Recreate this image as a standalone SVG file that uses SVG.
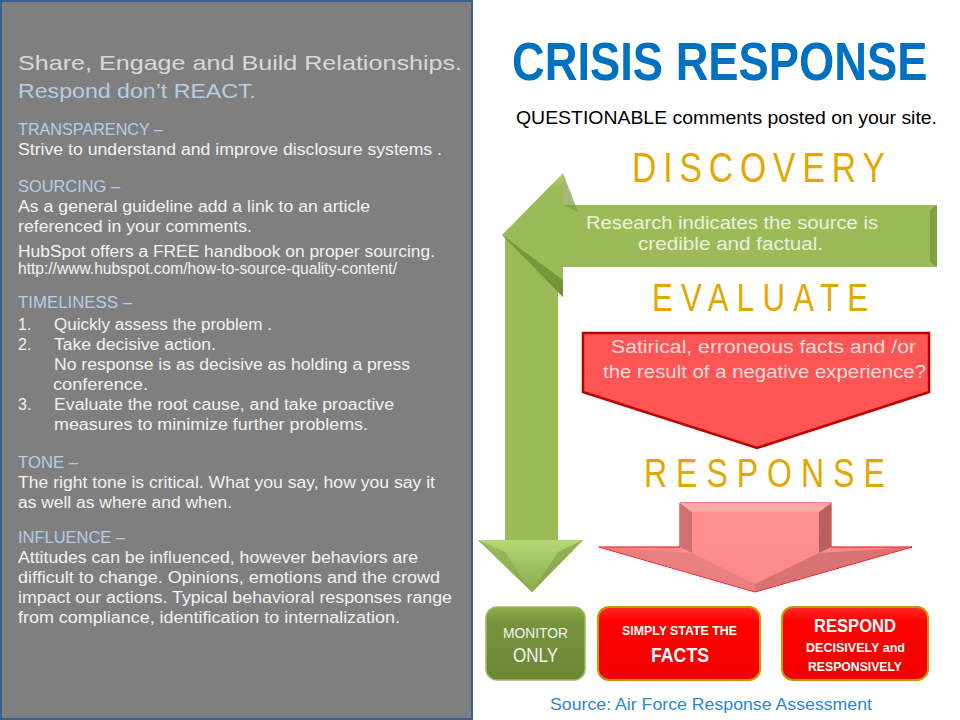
<svg xmlns="http://www.w3.org/2000/svg" width="960" height="720" viewBox="0 0 960 720">
<style>
.lt{font-family:"Liberation Sans",Arial,sans-serif;font-size:16px;fill:#f2f2f2}
.hd{font-family:"Liberation Sans",Arial,sans-serif;font-size:16px;fill:#b8cce4}
.stage{font-family:"Liberation Sans",Arial,sans-serif;fill:#e3a800}
.wt{font-family:"Liberation Sans",Arial,sans-serif;fill:#ffffff;font-weight:bold}
</style>
<defs>
<linearGradient id="gH" x1="0" y1="0" x2="0" y2="1">
<stop offset="0" stop-color="#b5d774"/><stop offset="0.12" stop-color="#9bbb59"/><stop offset="0.85" stop-color="#9bbb59"/><stop offset="1" stop-color="#6f8d35"/>
</linearGradient>
<linearGradient id="gV" x1="0" y1="0" x2="1" y2="0">
<stop offset="0" stop-color="#7d9c42"/><stop offset="0.25" stop-color="#9bbb59"/><stop offset="0.85" stop-color="#9bbb59"/><stop offset="1" stop-color="#86a64a"/>
</linearGradient>
<linearGradient id="gHead" x1="0" y1="0" x2="0" y2="1">
<stop offset="0" stop-color="#b5d774"/><stop offset="1" stop-color="#8aab4c"/>
</linearGradient>
<linearGradient id="gBox" x1="0" y1="0" x2="0" y2="1">
<stop offset="0" stop-color="#8fb04d"/><stop offset="0.2" stop-color="#77933c"/><stop offset="1" stop-color="#6b8736"/>
</linearGradient>
<linearGradient id="rBox" x1="0" y1="0" x2="0" y2="1">
<stop offset="0" stop-color="#ff2a2a"/><stop offset="0.2" stop-color="#ff0000"/><stop offset="1" stop-color="#f00000"/>
</linearGradient>
<linearGradient id="rArr" x1="0" y1="0" x2="0" y2="1">
<stop offset="0" stop-color="#ff9090"/><stop offset="1" stop-color="#ff8a8a"/>
</linearGradient>
</defs>

<!-- left panel -->
<g id="left-panel">
<rect x="1" y="1" width="471" height="718" fill="#7f7f7f" stroke="#3a5f8f" stroke-width="2"/>
<text x="18" y="70" font-family="Liberation Sans, Arial, sans-serif" font-size="21" fill="#d9d9d9" textLength="444" lengthAdjust="spacingAndGlyphs">Share, Engage and Build Relationships.</text>
<text x="18" y="98" font-family="Liberation Sans, Arial, sans-serif" font-size="21" fill="#b8cce4" textLength="238" lengthAdjust="spacingAndGlyphs">Respond don’t REACT.</text>
<text class="hd" x="18" y="135" textLength="145" lengthAdjust="spacingAndGlyphs">TRANSPARENCY –</text>
<text class="lt" x="18" y="155" textLength="424" lengthAdjust="spacingAndGlyphs">Strive to understand and improve disclosure systems .</text>
<text class="hd" x="18" y="192" textLength="102" lengthAdjust="spacingAndGlyphs">SOURCING –</text>
<text class="lt" x="18" y="212" textLength="352" lengthAdjust="spacingAndGlyphs">As a general guideline add a link to an article</text>
<text class="lt" x="18" y="232" textLength="234" lengthAdjust="spacingAndGlyphs">referenced in your comments.</text>
<text class="lt" x="18" y="257" textLength="417" lengthAdjust="spacingAndGlyphs">HubSpot offers a FREE handbook on proper sourcing.</text>
<text class="lt" x="18" y="274" font-size="12" textLength="379" lengthAdjust="spacingAndGlyphs">http://www.hubspot.com/how-to-source-quality-content/</text>
<text class="hd" x="18" y="308" textLength="114" lengthAdjust="spacingAndGlyphs">TIMELINESS –</text>
<text class="lt" x="18" y="330">1.</text>
<text class="lt" x="54" y="330" textLength="218" lengthAdjust="spacingAndGlyphs">Quickly assess the problem .</text>
<text class="lt" x="18" y="350">2.</text>
<text class="lt" x="54" y="350" textLength="162" lengthAdjust="spacingAndGlyphs">Take decisive action.</text>
<text class="lt" x="54" y="370" textLength="356" lengthAdjust="spacingAndGlyphs">No response is as decisive as holding a press</text>
<text class="lt" x="53" y="390" textLength="95" lengthAdjust="spacingAndGlyphs">conference.</text>
<text class="lt" x="18" y="410">3.</text>
<text class="lt" x="54" y="410" textLength="340" lengthAdjust="spacingAndGlyphs">Evaluate the root cause, and take proactive</text>
<text class="lt" x="54" y="430" textLength="314" lengthAdjust="spacingAndGlyphs">measures to minimize further problems.</text>
<text class="hd" x="18" y="468" textLength="60" lengthAdjust="spacingAndGlyphs">TONE –</text>
<text class="lt" x="18" y="488" textLength="417" lengthAdjust="spacingAndGlyphs">The right tone is critical.  What you say, how you say it</text>
<text class="lt" x="18" y="508" textLength="214" lengthAdjust="spacingAndGlyphs">as well as where and when.</text>
<text class="hd" x="18" y="543" textLength="107" lengthAdjust="spacingAndGlyphs">INFLUENCE –</text>
<text class="lt" x="18" y="563" textLength="400" lengthAdjust="spacingAndGlyphs">Attitudes can be influenced, however behaviors are</text>
<text class="lt" x="18" y="583" textLength="422" lengthAdjust="spacingAndGlyphs">difficult to change.  Opinions, emotions and the crowd</text>
<text class="lt" x="18" y="603" textLength="434" lengthAdjust="spacingAndGlyphs">impact our actions.  Typical behavioral responses range</text>
<text class="lt" x="18" y="623" textLength="382" lengthAdjust="spacingAndGlyphs">from compliance, identification to internalization.</text>
</g>

<!-- titles -->
<g id="title">
<text transform="translate(512,80) scale(0.855,1)" x="0" y="0" font-family="Liberation Sans, Arial, sans-serif" font-size="53" font-weight="bold" fill="#0070c0">CRISIS RESPONSE</text>
<text x="516" y="124" font-family="Liberation Sans, Arial, sans-serif" font-size="18" fill="#000000" textLength="421" lengthAdjust="spacingAndGlyphs">QUESTIONABLE comments posted on your site.</text>
</g>

<!-- connectors / arrows -->
<g id="connectors">
<!-- green vertical shaft with down head -->
<path d="M505,235 L558,235 L558,540 L583,540 L532,592 L478,540 L505,540 Z" fill="url(#gV)"/>
<path d="M478,540 L583,540 L532,592 Z" fill="url(#gHead)"/>
<path d="M478,540 L505,552 L532,592 Z" fill="#8aa84e" opacity="0.6"/>
<path d="M583,540 L558,552 L532,592 Z" fill="#7f9d44" opacity="0.6"/>
<!-- green horizontal arrow pointing left -->
<path d="M937,205 L937,267 L563,267 L563,297 L502,235 L563,173 L563,205 Z" fill="url(#gH)"/>
<path d="M563,173 L563,205 L578,212 Z" fill="#7d9c42" opacity="0.7"/>
<path d="M502,235 L563,297 L563,280 Z" fill="#6f8d35" opacity="0.8"/>
<path d="M930,210 L937,205 L937,267 L930,262 Z" fill="#6f8d35" opacity="0.6"/>
<!-- red evaluate pentagon -->
<path d="M583,333 L929,333 L929,392 L757,448 L583,392 Z" fill="#ff5555" stroke="#c00000" stroke-width="2.5" stroke-linejoin="miter"/>
<!-- red response down arrow -->
<path d="M680,503 L831,503 L831,547 L912,547 L755,592 L599,547 L680,547 Z" fill="url(#rArr)" stroke="#ff0000" stroke-width="1"/>
<path d="M680,503 L692,512 L692,553 L680,547 Z" fill="#d07070"/>
<path d="M831,503 L819,512 L819,553 L831,547 Z" fill="#b86060"/>
<path d="M599,547 L692,553 L755,584 L755,592 Z" fill="#e07a7a" opacity="0.7"/>
<path d="M912,547 L819,553 L755,584 L755,592 Z" fill="#c86a6a" opacity="0.7"/>
<path d="M680,503 L831,503 L819,512 L692,512 Z" fill="#ffa8a8"/>
</g>

<g id="discovery">
<text class="stage" transform="scale(0.8,1)" x="790" y="182" font-size="42" textLength="316" lengthAdjust="spacing">DISCOVERY</text>
<text x="586" y="229" font-family="Liberation Sans, Arial, sans-serif" font-size="18" fill="#ebf1de" textLength="292" lengthAdjust="spacingAndGlyphs">Research indicates the source is</text>
<text x="638" y="250" font-family="Liberation Sans, Arial, sans-serif" font-size="18" fill="#ebf1de" textLength="185" lengthAdjust="spacingAndGlyphs">credible and factual.</text>
</g>

<g id="evaluate">
<text class="stage" transform="scale(0.8,1)" x="815" y="311" font-size="39" textLength="270" lengthAdjust="spacing">EVALUATE</text>
<text x="611" y="353" font-family="Liberation Sans, Arial, sans-serif" font-size="18" fill="#f2dcdb" textLength="305" lengthAdjust="spacingAndGlyphs">Satirical, erroneous facts  and /or</text>
<text x="603" y="378" font-family="Liberation Sans, Arial, sans-serif" font-size="18" fill="#f2dcdb" textLength="323" lengthAdjust="spacingAndGlyphs">the result of a negative experience?</text>
</g>

<g id="response">
<text class="stage" transform="scale(0.8,1)" x="805" y="487" font-size="40" textLength="301" lengthAdjust="spacing">RESPONSE</text>
</g>

<g id="monitor-only">
<rect x="486" y="607" width="99" height="73" rx="11" fill="url(#gBox)" stroke="#9bbb59" stroke-width="1.5"/>
<text x="503" y="638" font-family="Liberation Sans, Arial, sans-serif" font-size="15" fill="#f2f2f2" textLength="65" lengthAdjust="spacingAndGlyphs">MONITOR</text>
<text x="513" y="662" font-family="Liberation Sans, Arial, sans-serif" font-size="20" fill="#f2f2f2" textLength="45" lengthAdjust="spacingAndGlyphs">ONLY</text>
</g>

<g id="simply-state-facts">
<rect x="598" y="607" width="162" height="73" rx="11" fill="url(#rBox)" stroke="#c89600" stroke-width="2"/>
<text class="wt" x="622" y="635" font-size="13" textLength="115" lengthAdjust="spacingAndGlyphs">SIMPLY STATE THE</text>
<text class="wt" x="651" y="662" font-size="21" textLength="58" lengthAdjust="spacingAndGlyphs">FACTS</text>
</g>

<g id="respond-decisively">
<rect x="782" y="607" width="146" height="73" rx="11" fill="url(#rBox)" stroke="#c89600" stroke-width="2"/>
<text class="wt" x="814" y="632" font-size="19" textLength="82" lengthAdjust="spacingAndGlyphs">RESPOND</text>
<text class="wt" x="806" y="652" font-size="13" textLength="99" lengthAdjust="spacingAndGlyphs">DECISIVELY and</text>
<text class="wt" x="808" y="671" font-size="13" textLength="94" lengthAdjust="spacingAndGlyphs">RESPONSIVELY</text>
</g>

<g id="source">
<text x="550" y="710" font-family="Liberation Sans, Arial, sans-serif" font-size="17" fill="#2e86cf" textLength="322" lengthAdjust="spacingAndGlyphs">Source:  Air Force Response Assessment</text>
</g>
</svg>
